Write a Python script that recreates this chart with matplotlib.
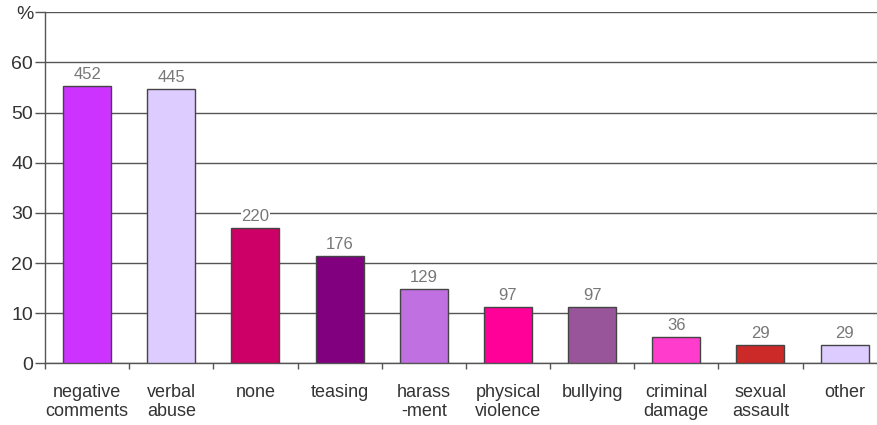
import matplotlib
matplotlib.use("Agg")
import matplotlib.pyplot as plt
import numpy as np


categories = ["negative\ncomments", "verbal\nabuse", "none", "teasing", "harass\n-ment",
              "physical\nviolence", "bullying", "criminal\ndamage", "sexual\nassault", "other"]
counts = [452, 445, 220, 176, 129, 97, 97, 36, 29, 29]
percent = [55.3, 54.7, 26.9, 21.3, 14.9, 11.2, 11.2, 5.2, 3.6, 3.6]
colors = ["#cc33ff", "#ddccff", "#cc0066", "#800080", "#c070e0",
          "#ff0099", "#995599", "#ff3ccc", "#cc2929", "#ddccff"]
y_ticks = [0, 10, 20, 30, 40, 50, 60, 70]
y_labels = ["0", "10", "20", "30", "40", "50", "60", "%"]

plt.rcParams["font.family"] = ["Liberation Sans", "DejaVu Sans"]

W, H = 877, 425
fig = plt.figure(figsize=(W / 100, H / 100), dpi=100)
# axes runs a bit past the right edge, like the original web graphic
ax = fig.add_axes([45 / W, 61.7 / H, 841.7 / W, 351 / H])

x = np.arange(len(categories))
ax.bar(x, percent, width=0.57, color=colors, edgecolor="#444444", linewidth=1.0, zorder=3)

for xi, p, c in zip(x, percent, counts):
    ax.text(xi, p + 0.8, str(c), ha="center", va="bottom", fontsize=12, color="#777777",
            bbox=dict(facecolor="white", edgecolor="none", pad=0.5), zorder=4)

ax.set_xlim(-0.5, len(categories) - 0.5)
ax.set_ylim(0, 70)
ax.set_yticks(y_ticks)
ax.set_yticklabels(y_labels, fontsize=14, color="#333333")
ax.yaxis.grid(True, color="#555555", linewidth=1.0, zorder=1)
ax.tick_params(axis="y", length=7.5, width=1.0, color="#555555", pad=1)

ax.set_xticks(x)
ax.set_xticklabels(categories, fontsize=13, color="#333333", linespacing=1.15)
ax.tick_params(axis="x", which="major", length=0, pad=15)
ax.set_xticks(np.arange(len(categories)) - 0.5, minor=True)
ax.tick_params(axis="x", which="minor", length=4, width=1.0, color="#555555")

for side in ["top", "right"]:
    ax.spines[side].set_visible(False)
for side in ["left", "bottom"]:
    ax.spines[side].set_color("#555555")
    ax.spines[side].set_linewidth(1.0)

fig.savefig("out.png", dpi=100)
